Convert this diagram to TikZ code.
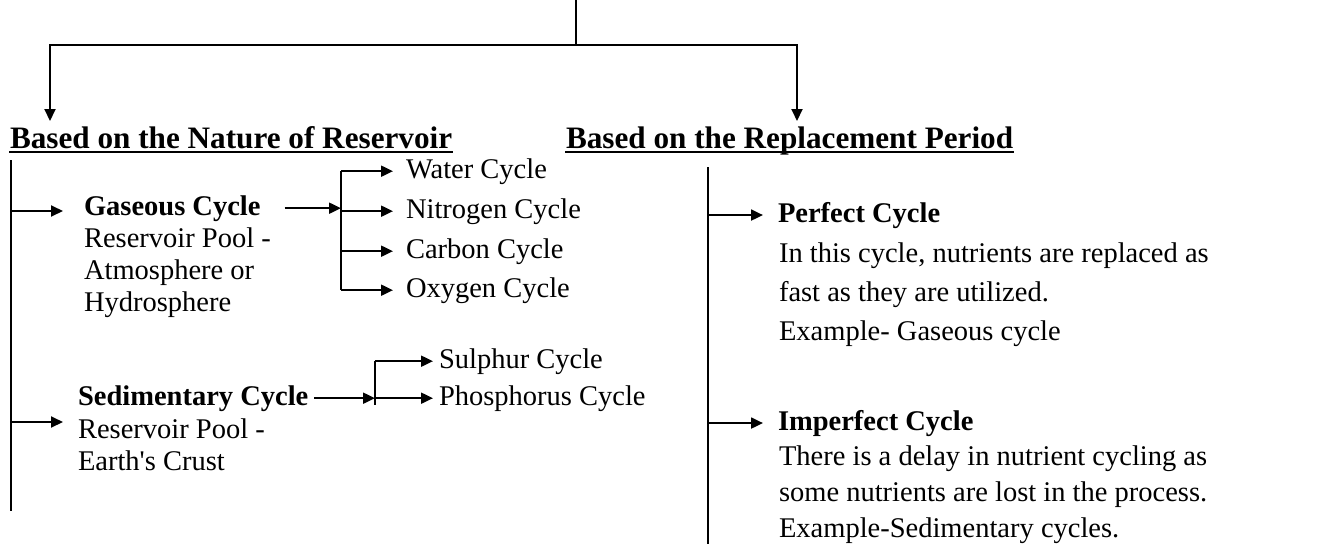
\documentclass[tikz,border=0pt]{standalone}
\usepackage{fontspec}
\setmainfont{Liberation Serif}
\usetikzlibrary{arrows.meta}

\tikzset{
  head/.style={anchor=base west, inner sep=0pt, font=\bfseries\fontsize{31.2}{36}\selectfont},
  item/.style={anchor=base west, inner sep=0pt, font=\fontsize{28.5}{32}\selectfont},
  itembf/.style={item, font=\bfseries\fontsize{28.5}{32}\selectfont},
  note/.style={item, align=left},
  arr/.style={-{Triangle[length=12pt,width=11pt]}},
}

\begin{document}
\begin{tikzpicture}[x=1pt, y=-1pt, line width=2pt]
   \useasboundingbox (0,0) rectangle (1325,544);
   \coordinate (title) at (576,0);
   \coordinate (split) at (576,45);
   \coordinate (natin) at (50,121);
   \coordinate (repin) at (797,121);
   \node[head] (nat) at (9,148) {Based on the Nature of Reservoir};
   \node[head] (rep) at (565,148) {Based on the Replacement Period};
   \draw (title) -- (split);
   \draw[arr] (split) -| (natin);
   \draw[arr] (split) -| (repin);
   \draw[line width=1.4pt] ([yshift=-4pt]nat.base west) -- ([yshift=-4pt]nat.base east);
   \draw[line width=1.4pt] ([yshift=-4pt]rep.base west) -- ([yshift=-4pt]rep.base east);

   \coordinate (ltop) at (11,160);
   \coordinate (lbot) at (11,511);
   \draw (ltop) -- (lbot);
   \node[itembf] (gas) at (83,215) {Gaseous Cycle};
   \node[note] (gasnote) at (83,311) {Reservoir Pool -\\Atmosphere or\\Hydrosphere};
   \coordinate (gasin) at (63,211);
   \draw[arr] (ltop |- gasin) -- (gasin);
   \coordinate (gbr) at (341,0);
   \node[item] (water) at (405,178) {Water Cycle};
   \node[item] (nitro) at (405,218) {Nitrogen Cycle};
   \node[item] (carbon) at (405,258) {Carbon Cycle};
   \node[item] (oxy) at (405,297) {Oxygen Cycle};
   \draw (gbr |- water.west) -- (gbr |- oxy.west);
   \foreach \n in {water,nitro,carbon,oxy}
      \draw[arr] (gbr |- \n.west) -- ([xshift=-12pt]\n.west);
   \coordinate (gasout) at ([xshift=23pt]gas.east);
   \draw[arr] (gasout) -- (gbr |- gasout);

   \node[itembf] (sed) at (77,405) {Sedimentary Cycle};
   \node[note] (sednote) at (77,470) {Reservoir Pool -\\Earth\textquotesingle s Crust};
   \coordinate (sedin) at (63,422);
   \draw[arr] (ltop |- sedin) -- (sedin);
   \coordinate (sbr) at (375,0);
   \node[item] (sul) at (438,368) {Sulphur Cycle};
   \node[item] (phos) at (438,405) {Phosphorus Cycle};
   \draw (sbr |- sul.west) -- (sbr |- phos.base);
   \foreach \n in {sul,phos}
      \draw[arr] (sbr |- \n.west) -- ([xshift=-5pt]\n.west);
   \coordinate (sedout) at ([xshift=5pt]sed.east);
   \draw[arr] (sedout) -- (sbr |- sedout);

   \coordinate (rtop) at (708,167);
   \coordinate (rbot) at (708,544);
   \draw (rtop) -- (rbot);
   \node[itembf] (perf) at (777,222) {Perfect Cycle};
   \node[note, font=\fontsize{28.5}{39}\selectfont] (perfnote) at (778,340)
      {In this cycle, nutrients are replaced as\\fast as they are utilized.\\Example- Gaseous cycle};
   \node[itembf] (imp) at (777,430) {Imperfect Cycle};
   \node[note, font=\fontsize{28.5}{36}\selectfont] (impnote) at (778,537)
      {There is a delay in nutrient cycling as\\some nutrients are lost in the process.\\Example-Sedimentary cycles.};
   \foreach \n in {perf,imp}
      \draw[arr] (rtop |- \n.west) -- ([xshift=-14pt]\n.west);
\end{tikzpicture}
\end{document}
